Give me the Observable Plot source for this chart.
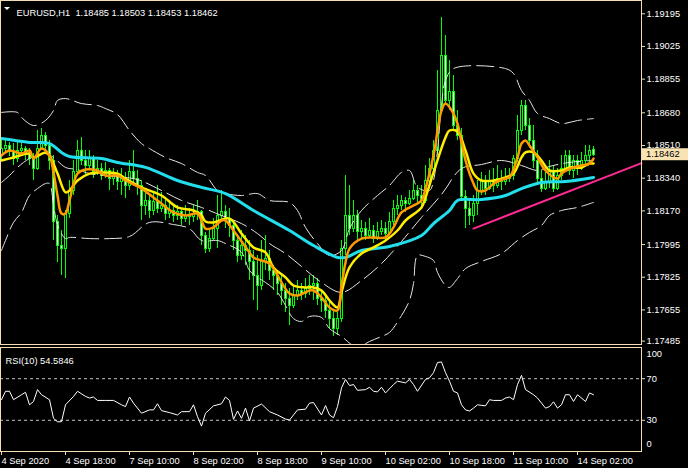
<!DOCTYPE html>
<html><head><meta charset="utf-8">
<script src="https://cdn.jsdelivr.net/npm/d3@7"></script>
<script src="https://cdn.jsdelivr.net/npm/@observablehq/plot@0.6"></script>
<style>
html,body{margin:0;padding:0;background:#000;}
#wrap{position:relative;width:688px;height:468px;background:#000;overflow:hidden;}
#wrap svg{position:absolute;left:0;display:block;}
</style></head><body><div id="wrap"></div>
<script>
// ---- EURUSD H1 candles, bar 0 = 4 Sep 2020 02:00 ... bar 148 = 14 Sep 06:00
const open = [1.18458,1.18494,1.18510,1.18474,1.18442,1.18484,1.18494,1.18468,1.18442,1.18390,
1.18494,1.18562,1.18510,1.18432,1.18110,1.17990,1.17974,1.18156,1.18276,1.18370,
1.18484,1.18432,1.18406,1.18442,1.18370,1.18390,1.18354,1.18380,1.18338,1.18354,
1.18318,1.18338,1.18302,1.18370,1.18338,1.18302,1.18198,1.18224,1.18172,1.18214,
1.18182,1.18198,1.18156,1.18172,1.18146,1.18162,1.18130,1.18146,1.18136,1.18151,
1.18162,1.18042,1.17974,1.18026,1.18078,1.18146,1.18162,1.18130,1.18094,1.18016,
1.17938,1.17990,1.17964,1.17902,1.17834,1.17782,1.17902,1.17922,1.17860,1.17834,
1.17792,1.17756,1.17714,1.17678,1.17730,1.17756,1.17740,1.17766,1.17782,1.17792,
1.17714,1.17704,1.17652,1.17610,1.17558,1.17610,1.17974,1.18146,1.18078,1.18146,
1.18058,1.18078,1.18042,1.18068,1.18026,1.18058,1.18078,1.18052,1.18110,1.18182,
1.18198,1.18224,1.18208,1.18234,1.18276,1.18250,1.18224,1.18328,1.18390,1.18484,
1.18692,1.18978,1.18744,1.18786,1.18614,1.18562,1.18240,1.18182,1.18146,1.18208,
1.18276,1.18318,1.18286,1.18328,1.18302,1.18338,1.18318,1.18338,1.18354,1.18442,
1.18588,1.18718,1.18614,1.18536,1.18432,1.18338,1.18286,1.18318,1.18370,1.18286,
1.18354,1.18390,1.18458,1.18380,1.18432,1.18390,1.18432,1.18458,1.18485];
const high = [1.18536,1.18546,1.18526,1.18520,1.18536,1.18520,1.18505,1.18494,1.18468,1.18588,
1.18598,1.18578,1.18536,1.18458,1.18146,1.18068,1.18172,1.18328,1.18432,1.18536,
1.18552,1.18484,1.18484,1.18458,1.18432,1.18416,1.18422,1.18390,1.18390,1.18380,
1.18390,1.18370,1.18432,1.18484,1.18380,1.18328,1.18276,1.18250,1.18266,1.18302,
1.18266,1.18224,1.18224,1.18198,1.18198,1.18182,1.18198,1.18182,1.18198,1.18224,
1.18172,1.18058,1.18078,1.18130,1.18250,1.18276,1.18198,1.18182,1.18110,1.18042,
1.18068,1.18042,1.18016,1.17964,1.17938,1.18016,1.18042,1.17964,1.17886,1.17860,
1.17834,1.17792,1.17766,1.17782,1.17808,1.17792,1.17818,1.17834,1.17834,1.17818,
1.17756,1.17740,1.17704,1.17652,1.17642,1.18016,1.18354,1.18302,1.18224,1.18172,
1.18120,1.18110,1.18130,1.18094,1.18110,1.18120,1.18110,1.18162,1.18224,1.18250,
1.18250,1.18240,1.18276,1.18328,1.18302,1.18302,1.18406,1.18442,1.18536,1.18900,
1.19176,1.19082,1.18952,1.18874,1.18692,1.18598,1.18276,1.18224,1.18250,1.18328,
1.18370,1.18354,1.18380,1.18390,1.18406,1.18380,1.18390,1.18390,1.18458,1.18666,
1.18744,1.18744,1.18650,1.18614,1.18484,1.18380,1.18370,1.18432,1.18406,1.18390,
1.18458,1.18484,1.18484,1.18458,1.18458,1.18474,1.18510,1.18510,1.18503];
const low = [1.18432,1.18474,1.18453,1.18406,1.18422,1.18458,1.18432,1.18406,1.18328,1.18380,
1.18484,1.18484,1.18380,1.18016,1.17902,1.17834,1.17818,1.18130,1.18250,1.18354,
1.18406,1.18354,1.18380,1.18338,1.18354,1.18328,1.18338,1.18276,1.18302,1.18276,
1.18250,1.18234,1.18276,1.18302,1.18250,1.18120,1.18146,1.18130,1.18146,1.18156,
1.18162,1.18120,1.18130,1.18110,1.18120,1.18094,1.18110,1.18094,1.18110,1.18120,
1.17990,1.17948,1.17954,1.18016,1.17974,1.18110,1.18078,1.18032,1.17964,1.17902,
1.17912,1.17886,1.17808,1.17704,1.17652,1.17756,1.17860,1.17808,1.17756,1.17730,
1.17678,1.17642,1.17574,1.17662,1.17704,1.17704,1.17714,1.17730,1.17704,1.17678,
1.17642,1.17610,1.17558,1.17517,1.17522,1.17590,1.17938,1.18042,1.18058,1.18016,
1.18026,1.18016,1.18026,1.18000,1.18016,1.18042,1.18016,1.18042,1.18094,1.18146,
1.18172,1.18162,1.18198,1.18224,1.18208,1.18198,1.18208,1.18302,1.18370,1.18458,
1.18682,1.18718,1.18692,1.18588,1.18536,1.18224,1.18078,1.18094,1.18110,1.18146,
1.18250,1.18250,1.18276,1.18266,1.18286,1.18276,1.18302,1.18318,1.18328,1.18422,
1.18562,1.18588,1.18494,1.18390,1.18302,1.18266,1.18276,1.18286,1.18266,1.18276,
1.18328,1.18370,1.18354,1.18338,1.18354,1.18380,1.18406,1.18422,1.18453];
const close = [1.18494,1.18510,1.18474,1.18442,1.18484,1.18494,1.18468,1.18442,1.18390,1.18494,
1.18562,1.18510,1.18432,1.18110,1.17990,1.17974,1.18156,1.18276,1.18370,1.18484,
1.18432,1.18406,1.18442,1.18370,1.18390,1.18354,1.18380,1.18338,1.18354,1.18318,
1.18338,1.18302,1.18370,1.18338,1.18302,1.18198,1.18224,1.18172,1.18214,1.18182,
1.18198,1.18156,1.18172,1.18146,1.18162,1.18130,1.18146,1.18136,1.18151,1.18162,
1.18042,1.17974,1.18026,1.18078,1.18146,1.18162,1.18130,1.18094,1.18016,1.17938,
1.17990,1.17964,1.17902,1.17834,1.17782,1.17902,1.17922,1.17860,1.17834,1.17792,
1.17756,1.17714,1.17678,1.17730,1.17756,1.17740,1.17766,1.17782,1.17792,1.17714,
1.17704,1.17652,1.17610,1.17558,1.17610,1.17974,1.18146,1.18078,1.18146,1.18058,
1.18078,1.18042,1.18068,1.18026,1.18058,1.18078,1.18052,1.18110,1.18182,1.18198,
1.18224,1.18208,1.18234,1.18276,1.18250,1.18224,1.18328,1.18390,1.18484,1.18692,
1.18978,1.18744,1.18786,1.18614,1.18562,1.18240,1.18182,1.18146,1.18208,1.18276,
1.18318,1.18286,1.18328,1.18302,1.18338,1.18318,1.18338,1.18354,1.18442,1.18588,
1.18718,1.18614,1.18536,1.18432,1.18338,1.18286,1.18318,1.18370,1.18286,1.18354,
1.18390,1.18458,1.18380,1.18432,1.18390,1.18432,1.18458,1.18484,1.18462];

// ---- indicator readings: [bar index, value]
const maCyan = [[0,1.18546],[7,1.18526],[12,1.18520],[15,1.18474],[17,1.18453],[25,1.18442],[29,1.18422],[36,1.18396],[44,1.18328],[50,1.18292],[56,1.18260],[63,1.18172],[72,1.18068],[78,1.17990],[84,1.17928],[86,1.17928],[90,1.17964],[97,1.17985],[105,1.18042],[108,1.18104],[112,1.18172],[114,1.18224],[120,1.18229],[126,1.18250],[130,1.18286],[135,1.18318],[141,1.18323],[148,1.18344]];
const maOrange = [[0,1.18458],[2,1.18484],[5,1.18468],[7,1.18484],[8,1.18442],[10,1.18494],[12,1.18458],[13,1.18370],[14,1.18250],[15,1.18156],[16,1.18156],[17,1.18224],[19,1.18364],[21,1.18385],[24,1.18380],[26,1.18354],[29,1.18354],[31,1.18328],[35,1.18286],[39,1.18224],[43,1.18162],[46,1.18146],[49,1.18156],[50,1.18120],[51,1.18078],[53,1.18084],[55,1.18120],[56,1.18120],[58,1.18068],[62,1.17954],[63,1.17928],[65,1.17912],[67,1.17896],[72,1.17740],[74,1.17730],[77,1.17756],[78,1.17756],[80,1.17720],[82,1.17668],[84,1.17652],[85,1.17782],[86,1.17902],[87,1.17974],[90,1.18026],[93,1.18032],[96,1.18032],[98,1.18084],[100,1.18162],[103,1.18198],[105,1.18224],[106,1.18286],[108,1.18458],[110,1.18692],[111,1.18728],[113,1.18676],[114,1.18624],[116,1.18432],[118,1.18312],[119,1.18276],[121,1.18276],[123,1.18312],[126,1.18338],[127,1.18344],[129,1.18448],[130,1.18520],[131,1.18536],[132,1.18510],[134,1.18448],[136,1.18380],[139,1.18338],[140,1.18364],[143,1.18396],[145,1.18406],[147,1.18416],[148,1.18442]];
const maYellow = [[0,1.18432],[3,1.18448],[7,1.18468],[8,1.18448],[11,1.18474],[12,1.18458],[14,1.18364],[16,1.18266],[17,1.18276],[19,1.18328],[22,1.18364],[25,1.18370],[29,1.18364],[31,1.18338],[35,1.18292],[40,1.18250],[44,1.18188],[48,1.18172],[50,1.18146],[51,1.18115],[53,1.18110],[57,1.18130],[60,1.18052],[63,1.17980],[66,1.17954],[68,1.17876],[71,1.17824],[73,1.17782],[76,1.17772],[78,1.17772],[80,1.17756],[82,1.17704],[84,1.17668],[85,1.17746],[87,1.17876],[90,1.17948],[93,1.17980],[96,1.18016],[99,1.18068],[101,1.18120],[105,1.18188],[106,1.18240],[108,1.18370],[111,1.18552],[112,1.18588],[114,1.18583],[116,1.18484],[118,1.18364],[120,1.18328],[123,1.18328],[126,1.18344],[128,1.18364],[130,1.18448],[131,1.18474],[133,1.18474],[135,1.18432],[137,1.18380],[140,1.18380],[142,1.18396],[145,1.18396],[147,1.18416],[148,1.18416]];
const bbUpper = [[0,1.18682],[4,1.18682],[5,1.18656],[8,1.18614],[11,1.18640],[13,1.18692],[14,1.18744],[16,1.18754],[20,1.18728],[24,1.18718],[26,1.18702],[29,1.18671],[32,1.18588],[35,1.18520],[37,1.18494],[41,1.18448],[45,1.18416],[49,1.18370],[51,1.18354],[54,1.18276],[56,1.18260],[60,1.18250],[64,1.18260],[67,1.18224],[72,1.18214],[74,1.18172],[76,1.18084],[79,1.18000],[82,1.17938],[85,1.17964],[87,1.18078],[90,1.18172],[94,1.18250],[97,1.18302],[100,1.18370],[102,1.18380],[104,1.18292],[107,1.18276],[108,1.18328],[109,1.18484],[110,1.18718],[111,1.18848],[113,1.18910],[126,1.18910],[128,1.18884],[130,1.18796],[132,1.18744],[134,1.18676],[137,1.18650],[140,1.18624],[144,1.18640],[148,1.18650]];
const bbMiddle = [[0,1.18318],[2,1.18354],[4,1.18396],[7,1.18442],[11,1.18468],[13,1.18448],[16,1.18396],[19,1.18385],[22,1.18364],[28,1.18349],[34,1.18333],[40,1.18276],[45,1.18224],[50,1.18188],[55,1.18146],[60,1.18104],[64,1.18052],[67,1.18000],[71,1.17948],[75,1.17881],[80,1.17798],[85,1.17746],[90,1.17808],[95,1.17896],[100,1.18011],[105,1.18136],[110,1.18255],[115,1.18390],[120,1.18411],[125,1.18432],[130,1.18406],[134,1.18380],[137,1.18401],[142,1.18422],[148,1.18432]];
const bbLower = [[0,1.17964],[1,1.18016],[3,1.18110],[5,1.18162],[7,1.18250],[9,1.18286],[11,1.18312],[12,1.18312],[13,1.18203],[14,1.18099],[16,1.18026],[17,1.18032],[22,1.18026],[27,1.18026],[32,1.18037],[37,1.18110],[43,1.18099],[47,1.18078],[50,1.18016],[54,1.18016],[56,1.18000],[60,1.17954],[62,1.17860],[64,1.17824],[66,1.17798],[69,1.17746],[71,1.17678],[73,1.17610],[75,1.17595],[77,1.17621],[80,1.17616],[82,1.17558],[85,1.17517],[89,1.17460],[92,1.17491],[95,1.17517],[97,1.17538],[100,1.17626],[102,1.17704],[103,1.17792],[104,1.17938],[106,1.17933],[108,1.17912],[109,1.17850],[111,1.17782],[112,1.17772],[114,1.17818],[116,1.17870],[120,1.17907],[125,1.17948],[129,1.18016],[132,1.18058],[135,1.18094],[137,1.18146],[140,1.18172],[144,1.18188],[148,1.18214]];
const trendLine = [[118,1.18078],[160,1.18418]];
const rsi10 = [[0,49.8],[1,57.9],[2,57.9],[3,49.8],[5,54.6],[6,56.9],[7,44.9],[8,48.1],[9,59.5],[10,54.6],[12,49.8],[13,31.9],[14,28.6],[15,28.6],[16,44.9],[18,53.0],[19,57.9],[21,53.0],[22,51.4],[23,52.4],[24,49.1],[26,49.1],[28,49.1],[30,44.9],[31,43.2],[32,52.4],[33,46.5],[35,36.8],[37,40.0],[38,40.0],[39,45.9],[40,39.3],[42,37.4],[44,35.1],[45,38.3],[47,38.3],[48,44.9],[49,33.5],[50,24.4],[51,36.8],[53,43.9],[55,45.9],[56,52.4],[57,49.1],[58,30.9],[59,39.0],[60,31.9],[61,41.7],[62,29.3],[63,41.7],[65,45.6],[67,38.3],[69,35.1],[71,31.2],[72,30.2],[74,40.0],[76,40.7],[77,46.5],[78,47.1],[80,35.1],[81,44.2],[82,35.1],[83,32.5],[84,43.2],[85,61.2],[86,69.3],[87,63.4],[88,64.4],[89,58.8],[91,59.5],[92,61.8],[93,57.9],[94,57.3],[95,61.8],[96,56.3],[98,64.4],[99,67.6],[101,66.0],[102,69.3],[103,64.4],[104,57.9],[106,69.3],[107,70.9],[108,75.8],[109,85.6],[110,86.1],[111,75.8],[112,67.6],[113,57.9],[114,56.3],[115,44.9],[116,40.0],[117,39.0],[118,41.7],[119,44.9],[121,43.9],[122,49.8],[123,49.1],[125,49.1],[126,51.4],[127,52.4],[128,49.8],[129,64.4],[130,73.2],[131,59.5],[133,54.6],[134,51.4],[136,41.7],[137,43.2],[138,47.8],[139,41.7],[140,44.9],[141,54.6],[142,54.6],[143,48.1],[144,54.6],[146,48.1],[147,56.3],[148,54.5846]];

// ---- axes
const priceTicks = [1.19195,1.19025,1.18855,1.18680,1.18510,1.18340,1.18170,1.17995,1.17825,1.17655,1.17485];
const rsiLevels = [70,30];
const rsiEdge = [100,0];
const timeIdx = [0,16,32,48,64,80,96,112,128,144];
const timeLabels = ["4 Sep 2020","4 Sep 18:00","7 Sep 10:00","8 Sep 02:00","8 Sep 18:00","9 Sep 10:00","10 Sep 02:00","10 Sep 18:00","11 Sep 10:00","14 Sep 02:00"];
const symbol = "EURUSD,H1";
const rsiName = "RSI(10)";

const FONT = '"Liberation Sans", Arial, sans-serif';
const AX = "#f2ddb4";
const GREEN = "#00ff00";
const last = close.length - 1;
const candles = close.map((c, i) => ({i, o: open[i], h: high[i], l: low[i], c}));
const fmt5 = d3.format(".5f");
const X = d => d[0], Y = d => d[1];
const baseStyle = {background: "#000", color: "#fff", fontFamily: FONT, fontSize: "9.3px", overflow: "visible"};

const main = Plot.plot({
  width: 688, height: 345,
  marginTop: 0, marginRight: 47, marginBottom: 1, marginLeft: 0,
  style: baseStyle,
  x: {domain: [-0.25, 160], axis: null},
  y: {domain: [1.174752, 1.19264]},
  marks: [
    Plot.ruleX(candles, {x: "i", y1: "l", y2: "h", stroke: GREEN, strokeWidth: 1, shapeRendering: "crispEdges"}),
    Plot.rect(candles, {x1: d => d.i - 0.25, x2: d => d.i + 0.25, y1: "o", y2: "c",
      fill: d => d.c >= d.o ? "#000" : "#fff", stroke: GREEN, strokeWidth: 1, shapeRendering: "crispEdges"}),
    Plot.line(bbUpper, {x: X, y: Y, stroke: "#e6e6e6", strokeWidth: 1, strokeDasharray: "17,6", curve: "catmull-rom", clip: true}),
    Plot.line(bbMiddle, {x: X, y: Y, stroke: "#e6e6e6", strokeWidth: 1, strokeDasharray: "17,6", curve: "catmull-rom", clip: true}),
    Plot.line(bbLower, {x: X, y: Y, stroke: "#e6e6e6", strokeWidth: 1, strokeDasharray: "17,6", curve: "catmull-rom", clip: true}),
    Plot.line(maCyan, {x: X, y: Y, stroke: "#22dfee", strokeWidth: 3, curve: "catmull-rom"}),
    Plot.line(maYellow, {x: X, y: Y, stroke: "#ffee00", strokeWidth: 2.5, curve: "catmull-rom"}),
    Plot.line(maOrange, {x: X, y: Y, stroke: "#ff9a00", strokeWidth: 2.5, curve: "catmull-rom"}),
    Plot.line(trendLine, {x: X, y: Y, stroke: "#ff2a92", strokeWidth: 2}),
    Plot.axisY({anchor: "right", ticks: priceTicks.slice(0, -1), tickFormat: fmt5, tickSize: 3, tickPadding: 2, stroke: AX, fill: "#fff", label: null}),
    Plot.axisY({anchor: "right", ticks: priceTicks.slice(-1), tickFormat: fmt5, tickSize: 3, tickPadding: 2, dy: -1.5, stroke: AX, fill: "#fff", label: null}),
    Plot.text([`${symbol}\u00a0\u00a0${fmt5(open[last])} ${fmt5(high[last])} ${fmt5(low[last])} ${fmt5(close[last])}`],
      {text: d => d, frameAnchor: "top-left", dx: 16, dy: 8.5, textAnchor: "start", fill: "#fff"}),
    Plot.frame({stroke: AX})
  ]
});

const rsiChart = Plot.plot({
  width: 688, height: 123,
  marginTop: 2, marginRight: 47, marginBottom: 17, marginLeft: 0,
  style: baseStyle,
  x: {domain: [-0.25, 160]},
  y: {domain: [0, 100]},
  marks: [
    Plot.ruleY(rsiLevels, {stroke: "#c4c4c4", strokeDasharray: "3,3"}),
    Plot.line(rsi10, {x: X, y: Y, stroke: "#fff", strokeWidth: 1}),
    Plot.axisY({anchor: "right", ticks: rsiLevels, tickSize: 3, tickPadding: 2, stroke: AX, fill: "#fff", label: null}),
    Plot.text(rsiEdge.slice(0, 1), {y: d => d, text: d => d, frameAnchor: "right", dx: 5, dy: 7, textAnchor: "start", fill: "#fff"}),
    Plot.text(rsiEdge.slice(1), {y: d => d, text: d => d, frameAnchor: "right", dx: 5, dy: -7, textAnchor: "start", fill: "#fff"}),
    Plot.axisX({anchor: "bottom", ticks: timeIdx, tickFormat: d => timeLabels[timeIdx.indexOf(d)], tickSize: 4, tickPadding: 2,
      textAnchor: "start", dx: 0, stroke: AX, fill: "#fff", label: null}),
    Plot.text([`${rsiName} ${rsi10[rsi10.length - 1][1]}`], {text: d => d, frameAnchor: "top-left", dx: 5, dy: 10, textAnchor: "start", fill: "#fff"}),
    Plot.frame({stroke: AX})
  ]
});

const wrap = document.getElementById("wrap");
main.style.top = "0px";
main.style.zIndex = "2";
rsiChart.style.top = "345px";
rsiChart.style.zIndex = "1";
wrap.appendChild(main);
wrap.appendChild(rsiChart);

// current-price tag on the price axis + title marker
const svg = d3.select(main);
const yTag = main.scale("y").apply(close[last]);
const xEdge = main.scale("x").range[1];
svg.append("rect").attr("x", xEdge + 1).attr("y", yTag - 6).attr("width", 688 - xEdge - 1).attr("height", 12).attr("fill", "#fae3b3");
svg.append("text").attr("x", xEdge + 5).attr("y", yTag).attr("dy", "0.35em").attr("fill", "#000")
  .attr("text-anchor", "start").attr("font-family", FONT).attr("font-size", "9.3px").text(fmt5(close[last]));
svg.append("path").attr("d", "M4,7L10,7L7,10Z").attr("fill", "#fff");
</script></body></html>
